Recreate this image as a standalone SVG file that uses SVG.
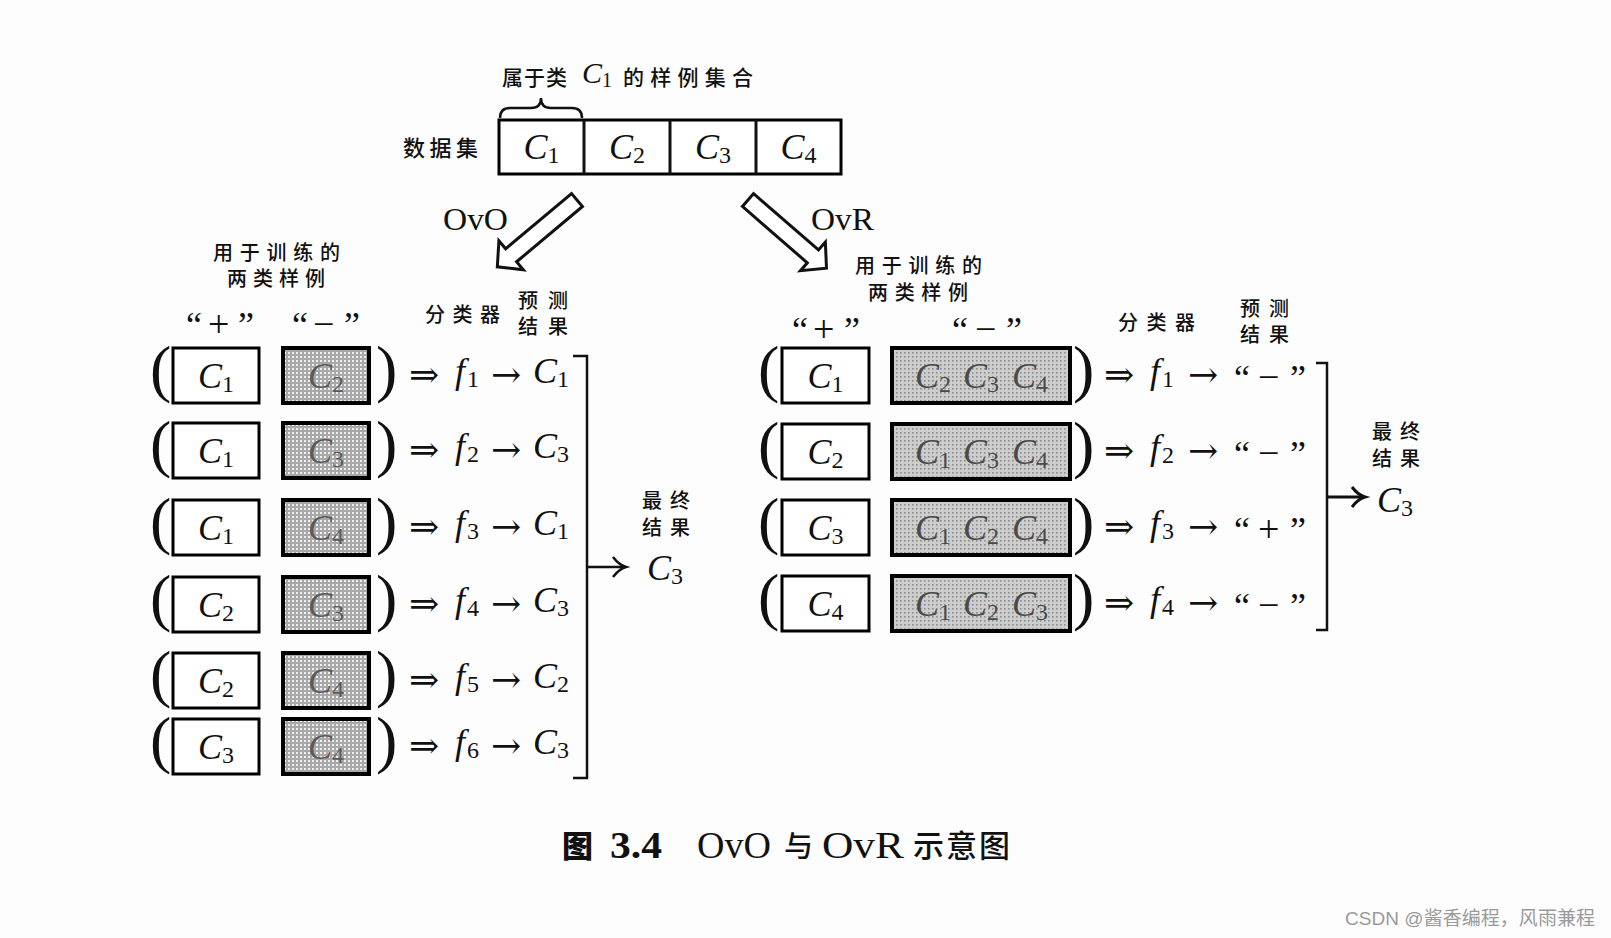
<svg xmlns="http://www.w3.org/2000/svg" width="1611" height="938" viewBox="0 0 1611 938">
<defs>
<style>
.bg{fill:#fdfdfd}
.box{fill:#fff;stroke:#000;stroke-width:3}
.gL{fill:url(#dotL);stroke:#000;stroke-width:4}
.gR{fill:url(#dotR);stroke:#000;stroke-width:4}
.cj{font-family:"Noto Sans CJK SC",sans-serif;font-size:20px;font-weight:500;fill:#111}
.m{font-family:"Liberation Serif",serif;font-style:italic;font-size:36px;fill:#111}
.sub{font-style:normal;font-size:24px}
.s{font-family:"Liberation Serif",serif;font-size:36px;fill:#111}
.sg{font-family:"Liberation Serif",serif;font-size:38px;fill:#111}
.par{font-family:"Liberation Serif",serif;font-size:64px;fill:#111}
.ar{font-family:"DejaVu Serif",serif;font-size:36px;fill:#111}
.tL{fill:#5a5a5a}
.tR{fill:#4a4a4a}
.ln{fill:none;stroke:#111;stroke-width:2.5}
.big{fill:#fff;stroke:#111;stroke-width:3;stroke-linejoin:miter}
</style>
<pattern id="dotL" width="4" height="4" patternUnits="userSpaceOnUse"><rect width="4" height="4" fill="#a8a8a8"/><rect width="2" height="2" fill="#efefef"/></pattern>
<pattern id="dotR" width="4" height="4" patternUnits="userSpaceOnUse"><rect width="4" height="4" fill="#cdcdcd"/><rect width="1.6" height="1.6" fill="#8c8c8c"/></pattern>
<polygon id="hollow" points="0,-8.5 86,-8.5 86,-19 104,0 86,19 86,8.5 0,8.5"/>
</defs>
<rect class="bg" width="1611" height="938"/>

<g id="dataset">
<text class="cj" x="502" y="85" textLength="65" style="font-size:21px">属于类</text>
<text class="m" x="582" y="83" style="font-size:30px">C<tspan class="sub" dy="4" style="font-size:20px">1</tspan></text>
<text class="cj" x="623" y="85" textLength="130" style="font-size:21px">的样例集合</text>
<path class="ln" d="M500,118 Q500,108 510,108 L531,108 Q541,108 541,98 Q541,108 551,108 L572,108 Q582,108 582,118"/>
<text class="cj" x="403" y="156" textLength="75" style="font-size:22px">数据集</text>
<rect class="box" x="499" y="120" width="342" height="54"/>
<line class="ln" x1="584" y1="120" x2="584" y2="174" style="stroke-width:3"/>
<line class="ln" x1="670" y1="120" x2="670" y2="174" style="stroke-width:3"/>
<line class="ln" x1="756" y1="120" x2="756" y2="174" style="stroke-width:3"/>
<text class="m" x="541.5" y="159" text-anchor="middle">C<tspan class="sub" dy="4">1</tspan></text>
<text class="m" x="627" y="159" text-anchor="middle">C<tspan class="sub" dy="4">2</tspan></text>
<text class="m" x="713" y="159" text-anchor="middle">C<tspan class="sub" dy="4">3</tspan></text>
<text class="m" x="798.5" y="159" text-anchor="middle">C<tspan class="sub" dy="4">4</tspan></text>
</g>

<g id="split-arrows">
<use href="#hollow" class="big" transform="translate(577,200) rotate(140)"/>
<use href="#hollow" class="big" transform="translate(748,200) rotate(41)"/>
<text class="s" x="443" y="230" textLength="65" lengthAdjust="spacingAndGlyphs" style="font-size:32px">OvO</text>
<text class="s" x="811" y="230" textLength="63" lengthAdjust="spacingAndGlyphs" style="font-size:32px">OvR</text>
</g>

<g id="ovo-header">
<text class="cj" x="213" y="260" textLength="127">用于训练的</text>
<text class="cj" x="227" y="286" textLength="98">两类样例</text>
<text class="s" x="186" y="337">“</text><text class="sg" x="208" y="337">+</text><text class="s" x="238" y="337">”</text>
<text class="s" x="292" y="337">“</text><text class="sg" x="313" y="337">−</text><text class="s" x="344" y="337">”</text>
<text class="cj" x="425" y="322" textLength="75">分类器</text>
<text class="cj" x="518" y="308" textLength="50">预测</text>
<text class="cj" x="518" y="334" textLength="50">结果</text>
</g>

<g id="ovo-row1">
<text class="par" x="150" y="390">(</text>
<rect class="box" x="173" y="348" width="86" height="55"/>
<text class="m" x="216" y="388" text-anchor="middle">C<tspan class="sub" dy="4">1</tspan></text>
<rect class="gL" x="283" y="348" width="86" height="55"/>
<text class="m tL" x="326" y="388" text-anchor="middle">C<tspan class="sub" dy="4">2</tspan></text>
<text class="par" x="376" y="390">)</text>
<text class="ar" x="409" y="387">⇒</text>
<text class="m" x="455" y="383">f<tspan class="sub" dx="2" dy="4">1</tspan></text>
<text class="ar" x="491" y="387">→</text>
<text class="m" x="533" y="383">C<tspan class="sub" dy="4">1</tspan></text>
</g>
<g id="ovo-row2">
<text class="par" x="150" y="465">(</text>
<rect class="box" x="173" y="423" width="86" height="55"/>
<text class="m" x="216" y="463" text-anchor="middle">C<tspan class="sub" dy="4">1</tspan></text>
<rect class="gL" x="283" y="423" width="86" height="55"/>
<text class="m tL" x="326" y="463" text-anchor="middle">C<tspan class="sub" dy="4">3</tspan></text>
<text class="par" x="376" y="465">)</text>
<text class="ar" x="409" y="462">⇒</text>
<text class="m" x="455" y="458">f<tspan class="sub" dx="2" dy="4">2</tspan></text>
<text class="ar" x="491" y="462">→</text>
<text class="m" x="533" y="458">C<tspan class="sub" dy="4">3</tspan></text>
</g>
<g id="ovo-row3">
<text class="par" x="150" y="542">(</text>
<rect class="box" x="173" y="500" width="86" height="55"/>
<text class="m" x="216" y="540" text-anchor="middle">C<tspan class="sub" dy="4">1</tspan></text>
<rect class="gL" x="283" y="500" width="86" height="55"/>
<text class="m tL" x="326" y="540" text-anchor="middle">C<tspan class="sub" dy="4">4</tspan></text>
<text class="par" x="376" y="542">)</text>
<text class="ar" x="409" y="539">⇒</text>
<text class="m" x="455" y="535">f<tspan class="sub" dx="2" dy="4">3</tspan></text>
<text class="ar" x="491" y="539">→</text>
<text class="m" x="533" y="535">C<tspan class="sub" dy="4">1</tspan></text>
</g>
<g id="ovo-row4">
<text class="par" x="150" y="619">(</text>
<rect class="box" x="173" y="577" width="86" height="55"/>
<text class="m" x="216" y="617" text-anchor="middle">C<tspan class="sub" dy="4">2</tspan></text>
<rect class="gL" x="283" y="577" width="86" height="55"/>
<text class="m tL" x="326" y="617" text-anchor="middle">C<tspan class="sub" dy="4">3</tspan></text>
<text class="par" x="376" y="619">)</text>
<text class="ar" x="409" y="616">⇒</text>
<text class="m" x="455" y="612">f<tspan class="sub" dx="2" dy="4">4</tspan></text>
<text class="ar" x="491" y="616">→</text>
<text class="m" x="533" y="612">C<tspan class="sub" dy="4">3</tspan></text>
</g>
<g id="ovo-row5">
<text class="par" x="150" y="695">(</text>
<rect class="box" x="173" y="653" width="86" height="55"/>
<text class="m" x="216" y="693" text-anchor="middle">C<tspan class="sub" dy="4">2</tspan></text>
<rect class="gL" x="283" y="653" width="86" height="55"/>
<text class="m tL" x="326" y="693" text-anchor="middle">C<tspan class="sub" dy="4">4</tspan></text>
<text class="par" x="376" y="695">)</text>
<text class="ar" x="409" y="692">⇒</text>
<text class="m" x="455" y="688">f<tspan class="sub" dx="2" dy="4">5</tspan></text>
<text class="ar" x="491" y="692">→</text>
<text class="m" x="533" y="688">C<tspan class="sub" dy="4">2</tspan></text>
</g>
<g id="ovo-row6">
<text class="par" x="150" y="761">(</text>
<rect class="box" x="173" y="719" width="86" height="55"/>
<text class="m" x="216" y="759" text-anchor="middle">C<tspan class="sub" dy="4">3</tspan></text>
<rect class="gL" x="283" y="719" width="86" height="55"/>
<text class="m tL" x="326" y="759" text-anchor="middle">C<tspan class="sub" dy="4">4</tspan></text>
<text class="par" x="376" y="761">)</text>
<text class="ar" x="409" y="758">⇒</text>
<text class="m" x="455" y="754">f<tspan class="sub" dx="2" dy="4">6</tspan></text>
<text class="ar" x="491" y="758">→</text>
<text class="m" x="533" y="754">C<tspan class="sub" dy="4">3</tspan></text>
</g>

<g id="ovo-final">
<text class="cj" x="642" y="508" textLength="48">最终</text>
<text class="cj" x="642" y="535" textLength="48">结果</text>
<text class="m" x="647" y="580">C<tspan class="sub" dy="4">3</tspan></text>
</g>

<g id="ovr-header">
<text class="cj" x="855" y="273" textLength="127">用于训练的</text>
<text class="cj" x="868" y="300" textLength="100">两类样例</text>
<text class="s" x="792" y="342">“</text><text class="sg" x="813" y="342">+</text><text class="s" x="844" y="342">”</text>
<text class="s" x="952" y="342">“</text><text class="sg" x="975" y="342">−</text><text class="s" x="1006" y="342">”</text>
<text class="cj" x="1118" y="330" textLength="77">分类器</text>
<text class="cj" x="1240" y="316" textLength="49">预测</text>
<text class="cj" x="1240" y="342" textLength="49">结果</text>
</g>

<g id="ovr-row1">
<text class="par" x="758" y="390">(</text>
<rect class="box" x="782" y="348" width="87" height="55"/>
<text class="m" x="825.5" y="388" text-anchor="middle">C<tspan class="sub" dy="4">1</tspan></text>
<rect class="gR" x="892" y="348" width="178" height="55"/>
<text class="m tR" x="915" y="388">C<tspan class="sub" dy="4">2</tspan></text>
<text class="m tR" x="963" y="388">C<tspan class="sub" dy="4">3</tspan></text>
<text class="m tR" x="1012" y="388">C<tspan class="sub" dy="4">4</tspan></text>
<text class="par" x="1073" y="390">)</text>
<text class="ar" x="1104" y="387">⇒</text>
<text class="m" x="1150" y="383">f<tspan class="sub" dx="2" dy="4">1</tspan></text>
<text class="ar" x="1188" y="387">→</text>
<text class="s" x="1234" y="390">“</text><text class="sg" x="1258" y="390">−</text><text class="s" x="1290" y="390">”</text>
</g>
<g id="ovr-row2">
<text class="par" x="758" y="466">(</text>
<rect class="box" x="782" y="424" width="87" height="55"/>
<text class="m" x="825.5" y="464" text-anchor="middle">C<tspan class="sub" dy="4">2</tspan></text>
<rect class="gR" x="892" y="424" width="178" height="55"/>
<text class="m tR" x="915" y="464">C<tspan class="sub" dy="4">1</tspan></text>
<text class="m tR" x="963" y="464">C<tspan class="sub" dy="4">3</tspan></text>
<text class="m tR" x="1012" y="464">C<tspan class="sub" dy="4">4</tspan></text>
<text class="par" x="1073" y="466">)</text>
<text class="ar" x="1104" y="463">⇒</text>
<text class="m" x="1150" y="459">f<tspan class="sub" dx="2" dy="4">2</tspan></text>
<text class="ar" x="1188" y="463">→</text>
<text class="s" x="1234" y="466">“</text><text class="sg" x="1258" y="466">−</text><text class="s" x="1290" y="466">”</text>
</g>
<g id="ovr-row3">
<text class="par" x="758" y="542">(</text>
<rect class="box" x="782" y="500" width="87" height="55"/>
<text class="m" x="825.5" y="540" text-anchor="middle">C<tspan class="sub" dy="4">3</tspan></text>
<rect class="gR" x="892" y="500" width="178" height="55"/>
<text class="m tR" x="915" y="540">C<tspan class="sub" dy="4">1</tspan></text>
<text class="m tR" x="963" y="540">C<tspan class="sub" dy="4">2</tspan></text>
<text class="m tR" x="1012" y="540">C<tspan class="sub" dy="4">4</tspan></text>
<text class="par" x="1073" y="542">)</text>
<text class="ar" x="1104" y="539">⇒</text>
<text class="m" x="1150" y="535">f<tspan class="sub" dx="2" dy="4">3</tspan></text>
<text class="ar" x="1188" y="539">→</text>
<text class="s" x="1234" y="542">“</text><text class="sg" x="1258" y="542">+</text><text class="s" x="1290" y="542">”</text>
</g>
<g id="ovr-row4">
<text class="par" x="758" y="618">(</text>
<rect class="box" x="782" y="576" width="87" height="55"/>
<text class="m" x="825.5" y="616" text-anchor="middle">C<tspan class="sub" dy="4">4</tspan></text>
<rect class="gR" x="892" y="576" width="178" height="55"/>
<text class="m tR" x="915" y="616">C<tspan class="sub" dy="4">1</tspan></text>
<text class="m tR" x="963" y="616">C<tspan class="sub" dy="4">2</tspan></text>
<text class="m tR" x="1012" y="616">C<tspan class="sub" dy="4">3</tspan></text>
<text class="par" x="1073" y="618">)</text>
<text class="ar" x="1104" y="615">⇒</text>
<text class="m" x="1150" y="611">f<tspan class="sub" dx="2" dy="4">4</tspan></text>
<text class="ar" x="1188" y="615">→</text>
<text class="s" x="1234" y="618">“</text><text class="sg" x="1258" y="618">−</text><text class="s" x="1290" y="618">”</text>
</g>

<g id="ovr-final">
<text class="cj" x="1372" y="439" textLength="48">最终</text>
<text class="cj" x="1372" y="466" textLength="48">结果</text>
<text class="m" x="1377" y="512">C<tspan class="sub" dy="4">3</tspan></text>
</g>

<g id="connectors">
<path class="ln" d="M573,356 L587,356 L587,778 L573,778"/>
<line class="ln" x1="587" y1="567" x2="625" y2="567"/>
<path class="ln" d="M613,557 Q619,565 626,567 Q619,569 613,577"/>
<path class="ln" d="M1316,363 L1327,363 L1327,630 L1316,630"/>
<line class="ln" x1="1327" y1="497" x2="1364" y2="497" style="stroke-width:3"/>
<path class="ln" d="M1352,487 Q1358,495 1365,497 Q1358,499 1352,507" style="stroke-width:3"/>
</g>

<g id="caption">
<text class="cj" x="562" y="857" textLength="30" style="font-size:31px;font-weight:900">图</text>
<text class="s" x="610" y="858" textLength="52" lengthAdjust="spacingAndGlyphs" style="font-size:38px;font-weight:bold">3.4</text>
<text class="s" x="697" y="858" textLength="74" lengthAdjust="spacingAndGlyphs" style="font-size:38px">OvO</text>
<text class="cj" x="784" y="857" textLength="26" style="font-size:29px">与</text>
<text class="s" x="822" y="858" textLength="82" lengthAdjust="spacingAndGlyphs" style="font-size:38px">OvR</text>
<text class="cj" x="913" y="857" textLength="97" style="font-size:31px">示意图</text>
</g>

<text x="1345" y="925" textLength="250" style="font-family:'Liberation Sans','Noto Sans CJK SC',sans-serif;font-size:19px;fill:#9a9a9a">CSDN @酱香编程，风雨兼程</text>
</svg>
